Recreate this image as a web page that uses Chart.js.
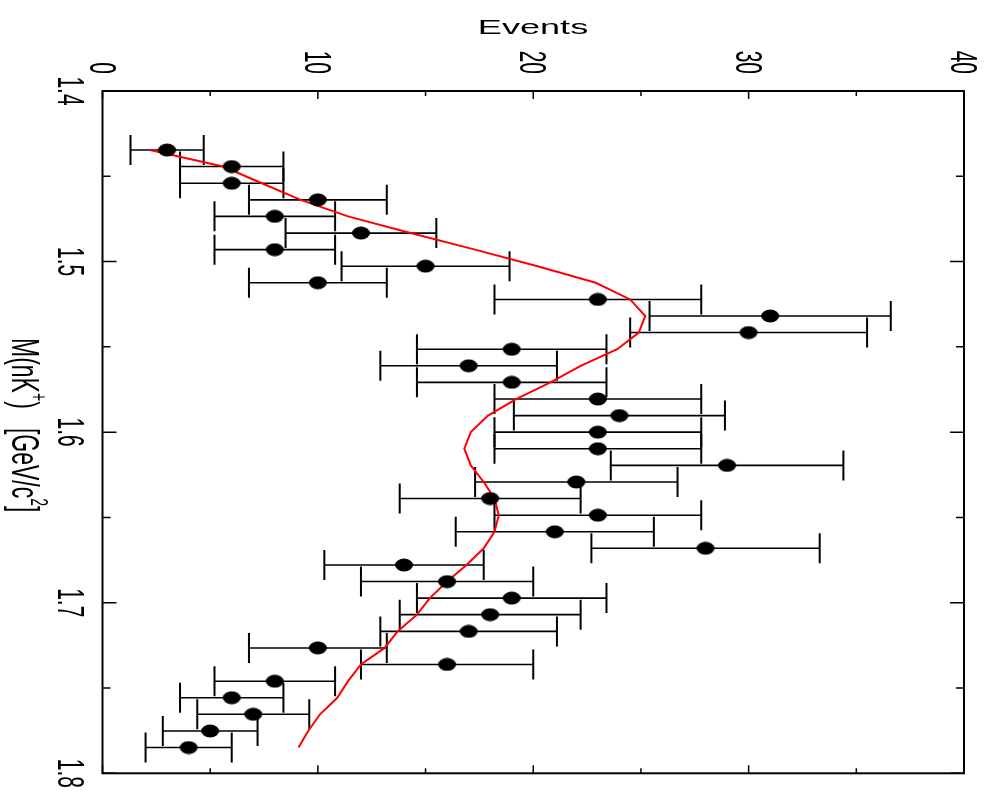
<!DOCTYPE html>
<html>
<head>
<meta charset="utf-8">
<script src="https://cdn.jsdelivr.net/npm/chart.js@4"></script>
<style>
  html, body { margin: 0; padding: 0; background: #fff; }
  canvas { display: block; }
</style>
</head>
<body>
<canvas id="c-mass" width="986" height="796"></canvas>
<script>
// bin centres, M(nK+) in GeV/c^2
var masses = [1.4346, 1.4443, 1.4541, 1.4638, 1.4735, 1.4833, 1.4930, 1.5027, 1.5124, 1.5222,
  1.5319, 1.5416, 1.5514, 1.5611, 1.5708, 1.5806, 1.5903, 1.6000, 1.6097, 1.6195,
  1.6292, 1.6389, 1.6487, 1.6584, 1.6681, 1.6779, 1.6876, 1.6973, 1.7070, 1.7168,
  1.7265, 1.7362, 1.7460, 1.7557, 1.7654, 1.7752, 1.7849]
// events per bin
var events = [3, 6, 6, 10, 8, 12, 8, 15, 10, 23,
  31, 30, 19, 17, 19, 23, 24, 23, 23, 29,
  22, 18, 23, 21, 28, 14, 16, 19, 18, 17,
  10, 16, 8, 6, 7, 5, 4]
// statistical errors (half width of the bars)
var errors = [1.7, 2.4, 2.4, 3.2, 2.8, 3.5, 2.8, 3.9, 3.2, 4.8,
  5.6, 5.5, 4.4, 4.1, 4.4, 4.8, 4.9, 4.8, 4.8, 5.4,
  4.7, 4.2, 4.8, 4.6, 5.3, 3.7, 4.0, 4.4, 4.2, 4.1,
  3.2, 4.0, 2.8, 2.4, 2.6, 2.2, 2.0]
// fit curve, evaluated at the same bin centres
var fitEvents = [2.2, 5.6, 7.4, 9.2, 11.4, 14.3, 17.3, 20.2, 22.9, 24.5,
  25.2, 24.9, 23.9, 22.2, 20.8, 19.2, 17.9, 17.1, 16.8, 17.1,
  17.7, 18.2, 18.4, 18.2, 17.7, 16.9, 16.0, 15.2, 14.6, 13.7,
  13.1, 12.0, 11.4, 10.9, 10.1, 9.55, 9.1]

var eventTicks = [0, 10, 20, 30, 40]
var massTicks = [1.4, 1.5, 1.6, 1.7, 1.8]
var massTickLabels = ['1.4', '1.5', '1.6', '1.7', '1.8']

var FONT = '"Liberation Sans", Arial, Helvetica, sans-serif'
var STRETCH = 1.72 // the picture is wider than tall

// elliptical marker
var marker = document.createElement('canvas')
marker.width = 20
marker.height = 14
var mctx = marker.getContext('2d')
mctx.fillStyle = '#000'
mctx.beginPath()
mctx.ellipse(10, 7, 9, 6.5, 0, 0, Math.PI * 2)
mctx.fill()

var points = masses.map(function (m, i) { return { x: events[i], y: m } })
var fitPoints = masses.map(function (m, i) { return { x: fitEvents[i], y: m } })

function rotText(ctx, text, x, y, size, align) {
  ctx.save()
  ctx.translate(x, y)
  ctx.scale(STRETCH, 1)
  ctx.rotate(Math.PI / 2)
  ctx.font = size + 'px ' + FONT
  ctx.textAlign = align
  ctx.textBaseline = 'alphabetic'
  ctx.fillText(text, 0, 0)
  ctx.restore()
}

var errorBars = {
  id: 'errorBars',
  beforeDatasetsDraw: function (chart) {
    var ctx = chart.ctx
    var xs = chart.scales.x, ys = chart.scales.y
    ctx.save()
    ctx.strokeStyle = '#000'
    for (var i = 0; i < masses.length; i++) {
      var y = ys.getPixelForValue(masses[i])
      var x1 = xs.getPixelForValue(events[i] - errors[i])
      var x2 = xs.getPixelForValue(events[i] + errors[i])
      ctx.lineWidth = 1.6
      ctx.beginPath()
      ctx.moveTo(x1, y)
      ctx.lineTo(x2, y)
      ctx.stroke()
      ctx.lineWidth = 2
      ctx.beginPath()
      ctx.moveTo(x1, y - 15)
      ctx.lineTo(x1, y + 15)
      ctx.moveTo(x2, y - 15)
      ctx.lineTo(x2, y + 15)
      ctx.stroke()
    }
    ctx.restore()
  }
}

var frame = {
  id: 'frame',
  afterDraw: function (chart) {
    var ctx = chart.ctx
    var a = chart.chartArea
    var xs = chart.scales.x, ys = chart.scales.y
    ctx.save()
    ctx.strokeStyle = '#000'
    ctx.fillStyle = '#000'
    ctx.lineWidth = 2
    ctx.strokeRect(a.left, a.top, a.right - a.left, a.bottom - a.top)

    ctx.lineWidth = 1.5
    ctx.beginPath()
    for (var v = 0; v <= 40; v += 5) {
      var px = xs.getPixelForValue(v)
      var len = v % 10 === 0 ? 8 : 5
      ctx.moveTo(px, a.top); ctx.lineTo(px, a.top + len)
      ctx.moveTo(px, a.bottom); ctx.lineTo(px, a.bottom - len)
    }
    for (var k = 0; k <= 8; k++) {
      var m = 1.4 + k * 0.05
      var py = ys.getPixelForValue(m)
      var l2 = k % 2 === 0 ? 14 : 8
      ctx.moveTo(a.left, py); ctx.lineTo(a.left + l2, py)
      ctx.moveTo(a.right, py); ctx.lineTo(a.right - l2, py)
    }
    ctx.stroke()

    // tick labels, turned a quarter clockwise
    eventTicks.forEach(function (t) {
      rotText(ctx, String(t), xs.getPixelForValue(t) - 13, 74, 21, 'right')
    })
    massTicks.forEach(function (t, i) {
      rotText(ctx, massTickLabels[i], 58, ys.getPixelForValue(t), 21, 'center')
    })

    // top title
    ctx.save()
    ctx.translate(533, 34)
    ctx.scale(STRETCH, 1)
    ctx.font = '21px ' + FONT
    ctx.textAlign = 'center'
    ctx.textBaseline = 'alphabetic'
    ctx.fillText('Events', 0, 0)
    ctx.restore()

    // left title, drawn piece by piece for the superscripts
    var parts = [
      { t: 'M(nK', s: 23, up: 0 },
      { t: '+', s: 14, up: 11 },
      { t: ')', s: 23, up: 0 },
      { t: '   [GeV/c', s: 23, up: 0 },
      { t: '2', s: 14, up: 11 },
      { t: ']', s: 23, up: 0 }
    ]
    ctx.save()
    ctx.translate(12, 338)
    ctx.scale(STRETCH, 1)
    ctx.rotate(Math.PI / 2)
    ctx.textAlign = 'left'
    ctx.textBaseline = 'alphabetic'
    var pos = 0
    parts.forEach(function (p) {
      ctx.font = p.s + 'px ' + FONT
      ctx.fillText(p.t, pos, -p.up)
      pos += ctx.measureText(p.t).width
    })
    ctx.restore()
    ctx.restore()
  }
}

var ctx = document.getElementById('c-mass').getContext('2d')
new Chart(ctx, {
  type: 'scatter',
  data: {
    datasets: [
      {
        label: 'data',
        data: points,
        pointStyle: marker,
        order: 0
      },
      {
        label: 'fit',
        data: fitPoints,
        showLine: true,
        borderColor: '#ff0000',
        borderWidth: 2,
        pointRadius: 0,
        tension: 0,
        fill: false,
        order: 1
      }
    ]
  },
  options: {
    responsive: false,
    animation: false,
    layout: {
      padding: { left: 102.5, top: 91, right: 22, bottom: 22.7 }
    },
    plugins: {
      legend: { display: false },
      tooltip: { enabled: false }
    },
    scales: {
      x: { type: 'linear', min: 0, max: 40, display: false },
      y: { type: 'linear', min: 1.4, max: 1.8, reverse: true, display: false }
    }
  },
  plugins: [errorBars, frame]
})
</script>
</body>
</html>
